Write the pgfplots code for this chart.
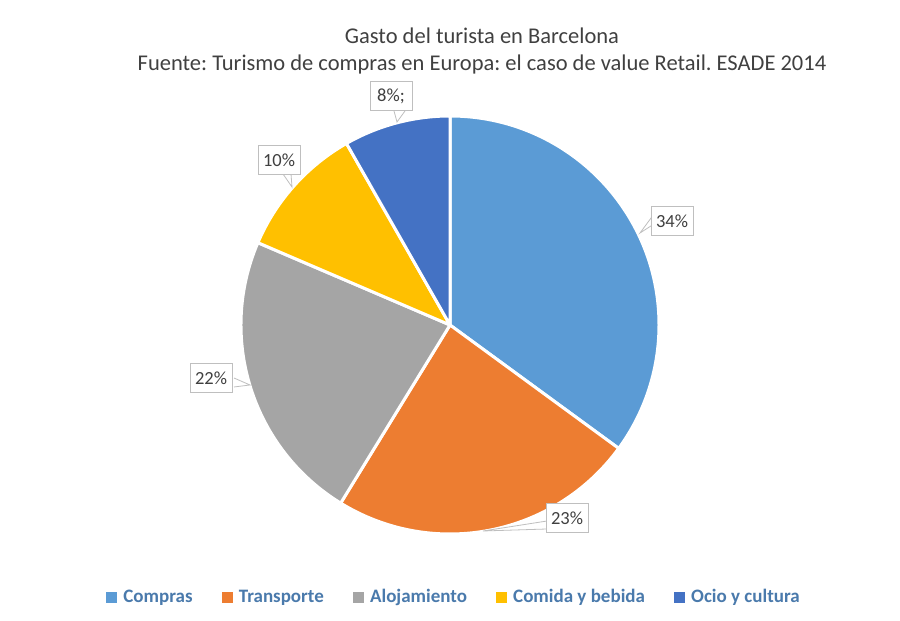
\documentclass[border=0pt]{standalone}
\usepackage{fontspec}
\setmainfont{Carlito}
\usepackage{pgfplots}
\usepackage{pgfplotstable}
\pgfplotsset{compat=1.18}
\frenchspacing

\definecolor{slice0}{RGB}{91,155,213}
\definecolor{slice1}{RGB}{237,125,49}
\definecolor{slice2}{RGB}{165,165,165}
\definecolor{slice3}{RGB}{255,192,0}
\definecolor{slice4}{RGB}{68,114,196}
\definecolor{titlegray}{RGB}{64,64,64}
\definecolor{boxgray}{RGB}{191,191,191}
\definecolor{legtext}{RGB}{74,122,172}

% values in percent, as labelled (they sum to 97, slices are normalised)
\pgfplotstableread[col sep=comma]{
name,value,label,lx,ly
Compras,34,34\%,672,400
Transporte,23,23\%,567,103
Alojamiento,22,22\%,211,243
Comida y bebida,10,10\%,279,461
Ocio y cultura,8,8\%;,391,525
}\gastos

\pgfmathsetmacro\total{97}
\gdef\cum{0}
\foreach \i in {0,...,4}{%
  \pgfplotstablegetelem{\i}{value}\of\gastos
  \pgfmathsetmacro\sa{90-\cum/\total*360}
  \pgfmathsetmacro\cumnew{\cum+\pgfplotsretval}
  \pgfmathsetmacro\ea{90-\cumnew/\total*360}
  \expandafter\xdef\csname sa\i\endcsname{\sa}
  \expandafter\xdef\csname ea\i\endcsname{\ea}
  \xdef\cum{\cumnew}
}

\begin{document}
\begin{tikzpicture}
\begin{axis}[
  scale only axis, width=900pt, height=621pt,
  xmin=0, xmax=900, ymin=0, ymax=621,
  hide axis, clip=false,
  legend columns=5,
  legend style={at={(axis cs:454,24)}, anchor=center, draw=none,
    font=\fontsize{19}{21}\selectfont\bfseries, text=legtext,
    /tikz/every even column/.append style={column sep=27pt}},
  legend image code/.code={\fill[#1] (0pt,-5pt) rectangle (10pt,5pt);
    \path[draw=none, fill=none] (0pt,0pt) -- (15pt,0pt);},
]
\path (axis cs:0,0) rectangle (axis cs:900,621);

% slices
\pgfplotsinvokeforeach{0,...,4}{
  \edef\temp{\noexpand\fill[slice#1, draw=white, line width=3pt, line join=round]
    (axis cs:450,296) -- ++(\csname sa#1\endcsname:209pt)
    arc[start angle=\csname sa#1\endcsname, end angle=\csname ea#1\endcsname, radius=209pt]
    -- cycle;}
  \temp
}

% callout pointers
\filldraw[fill=white, draw=boxgray, line width=0.8pt] (axis cs:654,407) -- (axis cs:640,388) -- (axis cs:654,397);
\filldraw[fill=white, draw=boxgray, line width=0.8pt] (axis cs:547,100) -- (axis cs:483,90) -- (axis cs:547,92);
\filldraw[fill=white, draw=boxgray, line width=0.8pt] (axis cs:234,243) -- (axis cs:250,236) -- (axis cs:234,234);
\filldraw[fill=white, draw=boxgray, line width=0.8pt] (axis cs:283,447) -- (axis cs:292,434) -- (axis cs:291,447);
\filldraw[fill=white, draw=boxgray, line width=0.8pt] (axis cs:394,510) -- (axis cs:397,499) -- (axis cs:405,510);

% labels
\pgfplotsinvokeforeach{0,...,4}{
  \pgfplotstablegetelem{#1}{label}\of\gastos \let\lab\pgfplotsretval
  \pgfplotstablegetelem{#1}{lx}\of\gastos \let\lx\pgfplotsretval
  \pgfplotstablegetelem{#1}{ly}\of\gastos \let\ly\pgfplotsretval
  \edef\temp{\noexpand\node[draw=boxgray, fill=white, line width=0.8pt, text=titlegray,
    font=\noexpand\fontsize{18.5}{20}\noexpand\selectfont, inner sep=0pt,
    minimum height=29pt, minimum width=42pt] at (axis cs:\lx,\ly) {\lab};}
  \temp
}

% title
\node[align=center, text=titlegray, font=\fontsize{22.5}{27}\selectfont]
  at (axis cs:482,570)
  {Gasto del turista en Barcelona\\
   Fuente: Turismo de compras en Europa: el caso de value Retail. ESADE 2014};

% legend
\addlegendimage{slice0}\addlegendentry{Compras}
\addlegendimage{slice1}\addlegendentry{Transporte}
\addlegendimage{slice2}\addlegendentry{Alojamiento}
\addlegendimage{slice3}\addlegendentry{Comida y bebida}
\addlegendimage{slice4}\addlegendentry{Ocio y cultura}
\end{axis}
\end{tikzpicture}
\end{document}
